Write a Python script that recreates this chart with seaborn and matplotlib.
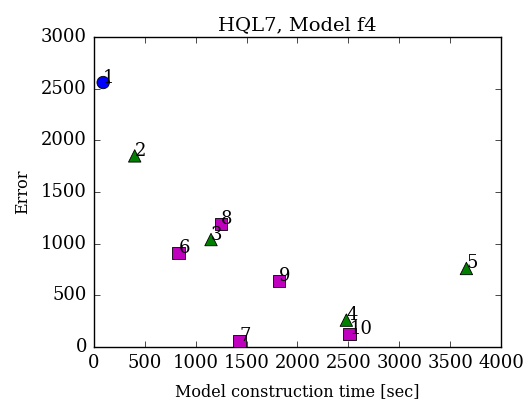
import matplotlib
matplotlib.use("Agg")
import matplotlib.pyplot as plt
import seaborn as sns
import pandas as pd

labels = ["1", "2", "3", "4", "5", "6", "7", "8", "9", "10"]
times = [90, 400, 1150, 2480, 3660, 830, 1430, 1250, 1820, 2510]
errors = [2560, 1850, 1040, 260, 760, 910, 60, 1190, 640, 125]
groups = ["a", "b", "b", "b", "b", "c", "c", "c", "c", "c"]

df = pd.DataFrame({"label": labels, "time": times, "error": errors, "group": groups})

plt.style.use("classic")
plt.rcParams["font.family"] = ["DejaVu Serif"]
plt.rcParams["font.size"] = 12

fig = plt.figure(figsize=(5.32, 4.03), dpi=100)
fig.patch.set_facecolor("white")
ax = fig.add_axes([0.1767, 0.139, 0.765, 0.769])

palette = {"a": "#0000ff", "b": "#007f00", "c": "#bf00bf"}
markers = {"a": "o", "b": "^", "c": "s"}
sns.scatterplot(data=df, x="time", y="error", hue="group", style="group",
                palette=palette, markers=markers, s=80, edgecolor="black",
                linewidth=0.6, legend=False, ax=ax, zorder=3)

for lab, x, y in zip(labels, times, errors):
    ax.text(x, y, lab, fontsize=13, ha="left", va="baseline", zorder=4)

ax.set_xlim(0, 4000)
ax.set_ylim(0, 3000)
ax.set_xticks(range(0, 4001, 500))
ax.set_yticks(range(0, 3001, 500))
ax.set_xlabel("Model construction time [sec]", fontsize=11.5, labelpad=8)
ax.set_ylabel("Error", fontsize=11.5, labelpad=7)
ax.set_title("HQL7, Model f4", fontsize=14)
ax.tick_params(direction="in", top=True, right=True, labelsize=13, pad=5)

fig.savefig("out.png", dpi=100, facecolor="white")
